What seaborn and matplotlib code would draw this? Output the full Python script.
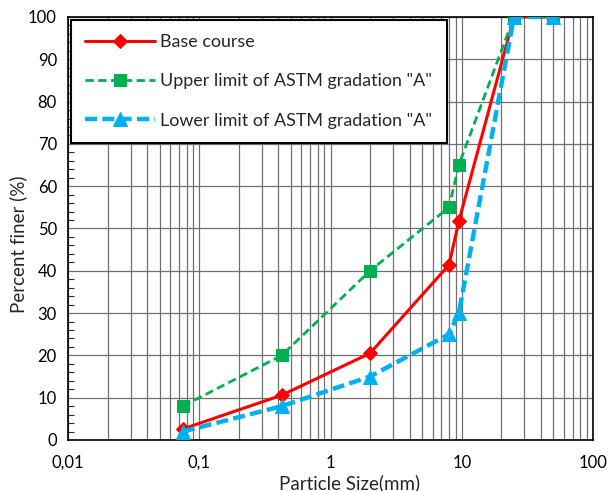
import matplotlib
matplotlib.use("Agg")
import matplotlib.pyplot as plt
import seaborn as sns
import pandas as pd
import numpy as np
from matplotlib.ticker import LogLocator, FixedLocator, NullFormatter, MultipleLocator

sizes = [0.075, 0.425, 2, 8, 9.5, 25, 50]
base_course = [2.6, 10.6, 20.5, 41.4, 51.7, 100, 100]
upper_limit = [8, 20, 40, 55, 65, 100, 100]
lower_limit = [2, 8, 15, 25, 30, 100, 100]
series_names = ["Base course", 'Upper limit of ASTM gradation "A"', 'Lower limit of ASTM gradation "A"']
xtick_vals = [0.01, 0.1, 1, 10, 100]
xtick_labels = ["0,01", "0,1", "1", "10", "100"]

sns.set_style("white")
plt.rcParams['font.family'] = ['Lato', 'DejaVu Sans']

fig = plt.figure(figsize=(6.09, 4.91), dpi=100)
ax = fig.add_axes([68/609, 1-440/491, (593-68)/609, (440-17)/491])

df = pd.DataFrame({
    "size": sizes * 3,
    "pct": base_course + upper_limit + lower_limit,
    "series": [series_names[0]]*7 + [series_names[1]]*7 + [series_names[2]]*7,
})

styles = [
    dict(color="#FF0000", lw=2.2, marker="D", ms=7, ls="-"),
    dict(color="#00B050", lw=2.0, marker="s", ms=8.5, ls=(0, (3, 1.6))),
    dict(color="#00B0F0", lw=3.2, marker="^", ms=10, ls=(0, (2.7, 1.2))),
]
for name, st in zip(series_names, styles):
    sub = df[df["series"] == name]
    sns.lineplot(data=sub, x="size", y="pct", ax=ax, sort=False, label=name,
                 color=st["color"], lw=st["lw"], marker=st["marker"], ms=st["ms"],
                 linestyle=st["ls"], markeredgecolor=st["color"], zorder=3)

ax.set_xscale("log")
ax.set_xlim(0.01, 100)
ax.set_ylim(0, 100)
ax.xaxis.set_major_locator(FixedLocator(xtick_vals))
ax.set_xticklabels(xtick_labels)
ax.xaxis.set_minor_locator(LogLocator(base=10, subs=np.arange(2, 10)))
ax.xaxis.set_minor_formatter(NullFormatter())
ax.yaxis.set_major_locator(MultipleLocator(10))
ax.yaxis.set_minor_locator(MultipleLocator(2))

ax.grid(True, which="both", axis="x", color="#707070", lw=0.9)
ax.grid(True, which="major", axis="y", color="#707070", lw=0.9)
ax.set_axisbelow(True)

for s in ax.spines.values():
    s.set_color("black")
    s.set_linewidth(1.2)

ax.tick_params(axis="both", which="major", direction="out", length=5, width=1, colors="black")
ax.tick_params(axis="y", which="minor", direction="in", length=4, width=0.8, left=True)
ax.tick_params(axis="x", which="minor", length=0)
ax.tick_params(axis="x", which="major", pad=5.5, labelsize=12)
ax.tick_params(axis="y", which="major", pad=3, labelsize=12)

ax.set_xlabel("Particle Size(mm)", fontsize=13.5)
ax.set_ylabel("Percent finer (%)", fontsize=13.5)
ax.xaxis.set_label_coords((350-68)/525, (440-474)/423)
ax.yaxis.set_label_coords((27-68)/525, (440-244)/423)

leg = ax.legend(loc="upper left", bbox_to_anchor=(0.0, 1.0), fontsize=12.9, frameon=True,
                fancybox=False, edgecolor="black", framealpha=1, handlelength=3.9,
                labelspacing=1.3, borderpad=0.8, handletextpad=0.3, borderaxespad=0.15)
leg.get_frame().set_linewidth(1.5)

fig.savefig("out.png", dpi=100)
